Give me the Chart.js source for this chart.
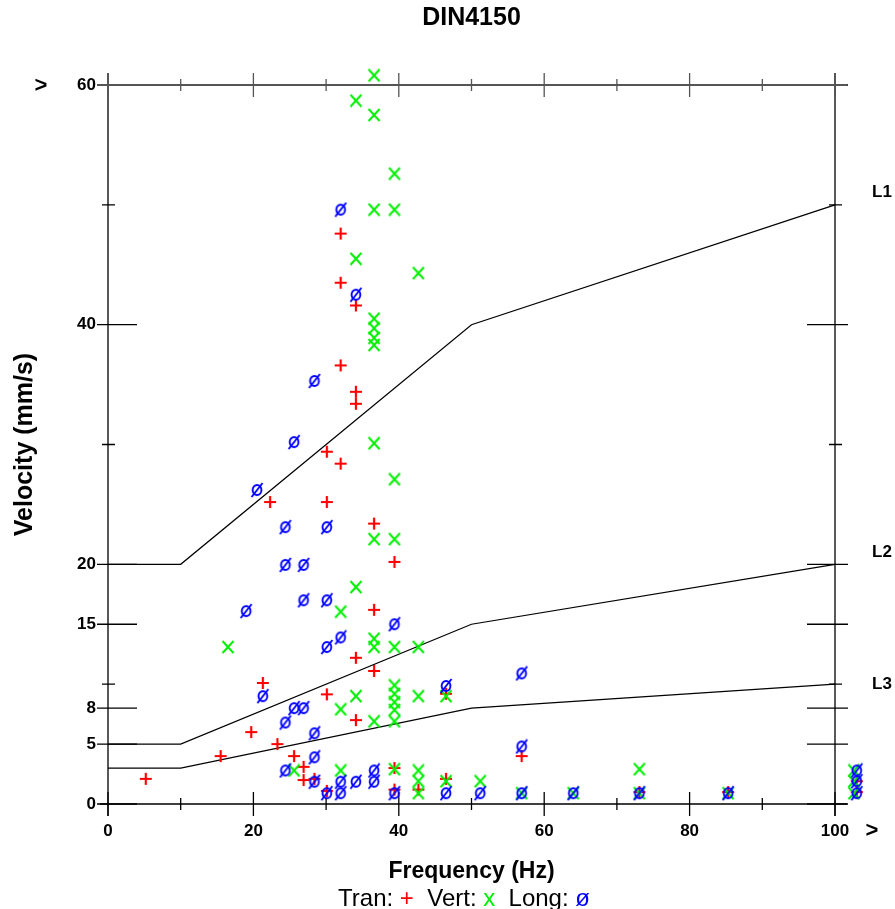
<!DOCTYPE html>
<html><head><meta charset="utf-8">
<script src="https://cdn.jsdelivr.net/npm/chart.js@4.4.1/dist/chart.umd.min.js"></script>
<style>html,body{margin:0;padding:0;background:#fff;} #wrap{width:895px;height:909px;position:relative;}</style>
</head><body><div id="wrap"><canvas id="c"></canvas></div>
<script>
const chartTitle = 'DIN4150';
const xTitle = 'Frequency (Hz)';
const yTitle = 'Velocity (mm/s)';
const xTickLabels = [0, 20, 40, 60, 80, 100];
const xTickMinor = [10, 30, 50, 70, 90];
const yTickLabels = [0, 5, 8, 15, 20, 40, 60];
const yTickMinor = [10, 30, 50];
const limitFreq = [0, 10, 50, 100];
const limitL1 = [20, 20, 40, 50];
const limitL2 = [5, 5, 15, 20];
const limitL3 = [3, 3, 8, 10];
const limitNames = ['L1', 'L2', 'L3'];

const tranFreq = [32.0, 32.0, 34.1, 32.0, 34.1, 34.1, 30.1, 32.0, 22.3, 30.1, 36.6, 39.4, 36.6, 34.1, 36.6, 21.3, 30.1, 34.1, 19.7, 23.3, 15.5, 25.6, 56.9, 46.5, 5.2, 26.9, 26.9, 28.4, 39.4, 30.1, 39.4, 42.7, 46.5, 73.1, 85.3, 103.0, 103.0];
const tranVel  = [47.6, 43.5, 41.6, 36.6, 34.4, 33.4, 29.4, 28.4, 25.2, 25.2, 23.4, 20.2, 16.2, 12.2, 11.1, 10.1, 9.15, 7.0, 6.0, 5.0, 4.0, 4.0, 4.0, 9.2, 2.1, 3.1, 2.0, 2.1, 3.0, 1.1, 1.2, 1.2, 2.1, 1.0, 1.0, 1.9, 1.0];

const vertFreq = [36.6, 34.1, 36.6, 39.4, 36.6, 39.4, 34.1, 42.7, 36.6, 36.6, 36.6, 36.6, 36.6, 39.4, 36.6, 39.4, 34.1, 32.0, 16.5, 36.6, 36.6, 39.4, 42.7, 39.4, 39.4, 39.4, 39.4, 39.4, 42.7, 46.5, 34.1, 32.0, 36.6, 25.6, 32.0, 39.4, 42.7, 42.7, 42.7, 46.5, 51.2, 56.9, 64.0, 73.1, 73.1, 85.3, 102.6, 102.6, 102.6];
const vertVel  = [60.8, 58.7, 57.5, 52.6, 49.6, 49.6, 45.5, 44.3, 40.5, 39.7, 38.9, 38.3, 30.1, 27.1, 22.1, 22.1, 18.1, 16.05, 13.1, 13.8, 13.1, 13.1, 13.1, 9.9, 9.2, 8.5, 7.85, 6.9, 9.0, 9.0, 9.0, 7.9, 6.9, 2.8, 2.8, 2.9, 2.8, 1.9, 0.9, 1.9, 1.9, 0.9, 0.9, 2.9, 0.9, 0.9, 2.8, 1.9, 0.9];

const longFreq = [32.0, 34.1, 28.4, 25.6, 20.5, 24.4, 30.1, 24.4, 26.9, 26.9, 30.1, 19.0, 39.4, 30.1, 32.0, 21.3, 25.6, 26.9, 24.4, 28.4, 28.4, 46.5, 56.9, 56.9, 24.4, 36.6, 28.4, 32.0, 34.1, 36.6, 30.1, 32.0, 39.4, 46.5, 51.2, 56.9, 64.0, 73.1, 85.3, 103.0, 103.0, 103.0];
const longVel  = [49.6, 42.5, 35.3, 30.2, 26.2, 23.1, 23.1, 19.95, 19.95, 17.0, 17.0, 16.1, 15.0, 13.1, 13.9, 9.0, 8.0, 8.0, 6.8, 5.9, 3.9, 9.85, 10.9, 4.8, 2.8, 2.8, 1.86, 1.86, 1.86, 1.86, 0.9, 0.9, 0.9, 0.9, 0.9, 0.9, 0.9, 0.9, 0.9, 2.8, 1.9, 0.9];

const FONT = '"Liberation Sans", Arial, sans-serif';
const RED = '#ff0000', GREEN = '#00f000', BLUE = '#0000ff';

function pts(xs, ys) { return xs.map((x, i) => ({x: x, y: ys[i]})); }

function makePlus(color) {
  const c = document.createElement('canvas'); c.width = 14; c.height = 14;
  const g = c.getContext('2d'); g.strokeStyle = color; g.lineWidth = 2.2;
  g.beginPath(); g.moveTo(1, 7); g.lineTo(13, 7); g.moveTo(7, 1); g.lineTo(7, 13); g.stroke();
  return c;
}
function makeX(color) {
  const c = document.createElement('canvas'); c.width = 14; c.height = 14;
  const g = c.getContext('2d'); g.strokeStyle = color; g.lineWidth = 2;
  g.beginPath(); g.moveTo(1.5, 1); g.lineTo(12.5, 13); g.moveTo(12.5, 1); g.lineTo(1.5, 13); g.stroke();
  return c;
}
function makeO(color) {
  const c = document.createElement('canvas'); c.width = 14; c.height = 16;
  const g = c.getContext('2d'); g.strokeStyle = color; g.lineWidth = 1.9;
  g.beginPath(); g.ellipse(7, 8, 4.4, 5, 0, 0, Math.PI * 2); g.stroke();
  g.beginPath(); g.moveTo(1.5, 15); g.lineTo(12.5, 1); g.stroke();
  return c;
}

const framePlugin = {
  id: 'frame',
  beforeDatasetsDraw(chart) {
    const ctx = chart.ctx, xs = chart.scales.x, ys = chart.scales.y;
    const x0 = xs.getPixelForValue(0), x1 = xs.getPixelForValue(100);
    const y0 = ys.getPixelForValue(0), y1 = ys.getPixelForValue(60);
    ctx.save();
    ctx.lineWidth = 1.3; ctx.strokeStyle = '#000';
    ctx.beginPath();
    ctx.moveTo(x0, y1 - 12); ctx.lineTo(x0, y0 + 12);
    ctx.moveTo(x1, y1 - 12); ctx.lineTo(x1, y0 + 12);
    ctx.moveTo(x0 - 8, y0); ctx.lineTo(x1 + 12, y0);
    ctx.stroke();
    yTickLabels.forEach(v => {
      const p = ys.getPixelForValue(v);
      ctx.beginPath(); ctx.moveTo(x0 - 11, p); ctx.lineTo(x0 + 29, p);
      ctx.moveTo(x1 - 28, p); ctx.lineTo(x1 + 13, p); ctx.stroke();
    });
    yTickMinor.forEach(v => {
      const p = ys.getPixelForValue(v);
      ctx.beginPath(); ctx.moveTo(x0 - 6, p); ctx.lineTo(x0 + 7, p);
      ctx.moveTo(x1 - 6, p); ctx.lineTo(x1 + 7, p); ctx.stroke();
    });
    xTickLabels.forEach(v => {
      const p = xs.getPixelForValue(v);
      ctx.beginPath(); ctx.moveTo(p, y0 - 12); ctx.lineTo(p, y0 + 12); ctx.stroke();
    });
    xTickMinor.forEach(v => {
      const p = xs.getPixelForValue(v);
      ctx.beginPath(); ctx.moveTo(p, y0 - 6); ctx.lineTo(p, y0 + 6); ctx.stroke();
    });
    ctx.strokeStyle = '#555'; ctx.lineWidth = 2;
    ctx.beginPath(); ctx.moveTo(x0 - 11, y1); ctx.lineTo(x1 + 12, y1); ctx.stroke();
    ctx.lineWidth = 1.3;
    xTickLabels.forEach(v => {
      const p = xs.getPixelForValue(v);
      ctx.beginPath(); ctx.moveTo(p, y1 - 12); ctx.lineTo(p, y1 + 12); ctx.stroke();
    });
    xTickMinor.forEach(v => {
      const p = xs.getPixelForValue(v);
      ctx.beginPath(); ctx.moveTo(p, y1 - 6); ctx.lineTo(p, y1 + 6); ctx.stroke();
    });
    ctx.restore();
    // let marks just outside the frame be drawn (as in the reference)
    chart._savedArea = chart.chartArea;
    chart.chartArea = {left: -1000, top: -1000, right: chart.width + 1000, bottom: chart.height + 1000,
                       width: chart.width + 2000, height: chart.height + 2000};
  },
  afterDatasetsDraw(chart) {
    if (chart._savedArea) { chart.chartArea = chart._savedArea; chart._savedArea = null; }
  },
  afterDraw(chart) {
    const ctx = chart.ctx, xs = chart.scales.x, ys = chart.scales.y;
    const x1 = xs.getPixelForValue(100);
    ctx.save();
    ctx.fillStyle = '#000';
    ctx.font = 'bold 17px ' + FONT; ctx.textAlign = 'left'; ctx.textBaseline = 'middle';
    const lasts = [limitL1, limitL2, limitL3].map(a => a[a.length - 1]);
    const offs = [-13, -12, 0];
    limitNames.forEach((n, i) => ctx.fillText(n, x1 + 37, ys.getPixelForValue(lasts[i]) + offs[i]));
    ctx.font = 'bold 22px ' + FONT; ctx.textAlign = 'center';
    ctx.fillText('>', 41, ys.getPixelForValue(60) + 1);
    ctx.fillText('>', x1 + 37, ys.getPixelForValue(0) + 27);
    ctx.font = '24px ' + FONT; ctx.textAlign = 'left'; ctx.textBaseline = 'alphabetic';
    const parts = [['Tran: ', '#000'], ['+', RED], ['  Vert: ', '#000'], ['x', GREEN], ['  Long: ', '#000'], ['ø', BLUE]];
    let w = 0; parts.forEach(p => w += ctx.measureText(p[0]).width);
    let x = 464 - w / 2;
    parts.forEach(p => { ctx.fillStyle = p[1]; ctx.fillText(p[0], x, 906); x += ctx.measureText(p[0]).width; });
    ctx.restore();
  }
};

const lineStyle = {type: 'line', showLine: true, borderColor: '#000', borderWidth: 1.2, pointRadius: 0, tension: 0, fill: false, order: 4, clip: false};

new Chart(document.getElementById('c'), {
  type: 'scatter',
  data: {
    datasets: [
      Object.assign({label: limitNames[0], data: pts(limitFreq, limitL1)}, lineStyle),
      Object.assign({label: limitNames[1], data: pts(limitFreq, limitL2)}, lineStyle),
      Object.assign({label: limitNames[2], data: pts(limitFreq, limitL3)}, lineStyle),
      {label: 'Tran', data: pts(tranFreq, tranVel), pointStyle: makePlus(RED), pointRadius: 7, order: 3, clip: false},
      {label: 'Vert', data: pts(vertFreq, vertVel), pointStyle: makeX(GREEN), pointRadius: 7, order: 2, clip: false},
      {label: 'Long', data: pts(longFreq, longVel), pointStyle: makeO(BLUE), pointRadius: 7, order: 1, clip: false}
    ]
  },
  options: {
    responsive: true, maintainAspectRatio: false, animation: false, events: [],
    layout: {padding: {left: 0, right: 60, top: 0, bottom: 0}},
    plugins: {
      legend: {display: false}, tooltip: {enabled: false},
      title: {display: true, fullSize: false, text: chartTitle, color: '#000', font: {family: FONT, size: 25, weight: 'bold'}, padding: {top: 3, bottom: 52}}
    },
    scales: {
      x: {
        type: 'linear', position: 'bottom', min: 0, max: 100,
        grid: {display: false}, border: {display: false},
        afterBuildTicks: s => { s.ticks = xTickLabels.concat(xTickMinor).sort((a, b) => a - b).map(v => ({value: v})); },
        ticks: {autoSkip: false, maxRotation: 0, color: '#000', padding: 9,
          font: {family: FONT, size: 17, weight: 'bold'},
          callback: v => xTickLabels.includes(v) ? String(v) : ''},
        title: {display: true, text: xTitle, color: '#000', font: {family: FONT, size: 23, weight: 'bold'}, padding: {top: 0, bottom: 24}},
        afterFit: s => { s.height = 105; }
      },
      y: {
        type: 'linear', position: 'left', min: 0, max: 60,
        grid: {display: false}, border: {display: false},
        afterBuildTicks: s => { s.ticks = yTickLabels.concat(yTickMinor).sort((a, b) => a - b).map(v => ({value: v})); },
        ticks: {autoSkip: false, color: '#000', padding: 4,
          font: {family: FONT, size: 17, weight: 'bold'},
          callback: v => yTickLabels.includes(v) ? String(v) : ''},
        title: {display: true, text: yTitle, color: '#000', font: {family: FONT, size: 25, weight: 'bold'}, padding: {top: 10, bottom: 0}},
        afterFit: s => { s.width = 108; }
      }
    }
  },
  plugins: [framePlugin]
});
</script>
</body></html>
